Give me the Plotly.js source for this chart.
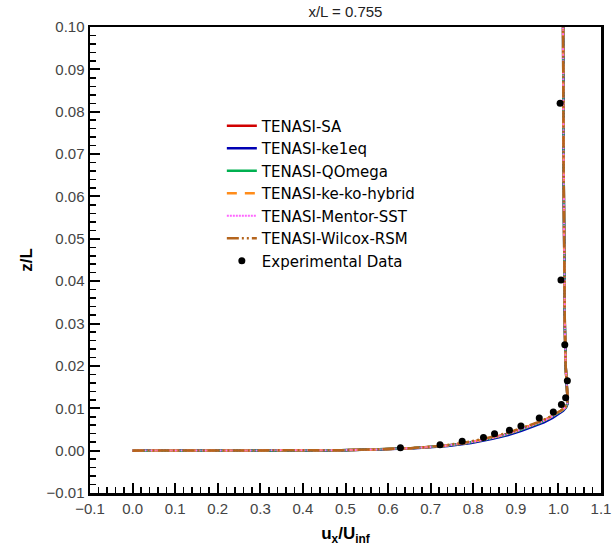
<!DOCTYPE html>
<html>
<head>
<meta charset="utf-8">
<script src="https://cdn.plot.ly/plotly-3.0.1.min.js"></script>
<style>html,body{margin:0;padding:0;background:#fff;}#chart{width:613px;height:550px;}</style>
</head>
<body>
<div id="chart"></div>
<script>
// Shared wall-normal coordinates (z/L) for the model profiles
const zProfile = [0, 0.0001, 0.0003, 0.0006, 0.0011, 0.0018, 0.0028, 0.0037, 0.0047, 0.0057, 0.0067, 0.0077, 0.0086, 0.0094, 0.0102, 0.011, 0.013, 0.016, 0.02, 0.03, 0.05, 0.07, 0.1];
// Velocity profiles (u_x/U_inf) for each model
const uSA       = [0, 0.49, 0.58, 0.66, 0.73, 0.785, 0.835, 0.872, 0.903, 0.932, 0.957, 0.978, 0.994, 1.007, 1.016, 1.021, 1.021, 1.019, 1.017, 1.015, 1.013, 1.012, 1.011];
const uKe1eq    = [0, 0.49, 0.59, 0.67, 0.74, 0.795, 0.845, 0.882, 0.913, 0.942, 0.966, 0.986, 1.0, 1.011, 1.018, 1.021, 1.021, 1.019, 1.017, 1.015, 1.013, 1.012, 1.011];
const uQOmega   = [0, 0.49, 0.58, 0.66, 0.73, 0.785, 0.836, 0.874, 0.905, 0.934, 0.959, 0.98, 0.996, 1.008, 1.017, 1.021, 1.021, 1.019, 1.017, 1.015, 1.013, 1.012, 1.011];
const uHybrid   = [0, 0.49, 0.58, 0.66, 0.73, 0.783, 0.833, 0.870, 0.901, 0.930, 0.955, 0.977, 0.993, 1.006, 1.016, 1.021, 1.021, 1.019, 1.017, 1.015, 1.013, 1.012, 1.011];
const uMentor   = [0, 0.49, 0.58, 0.66, 0.73, 0.785, 0.835, 0.873, 0.904, 0.933, 0.958, 0.979, 0.995, 1.007, 1.016, 1.021, 1.021, 1.019, 1.017, 1.015, 1.013, 1.012, 1.011];
const uWilcox   = [0, 0.49, 0.575, 0.655, 0.722, 0.775, 0.825, 0.862, 0.895, 0.925, 0.952, 0.975, 0.992, 1.005, 1.015, 1.021, 1.021, 1.019, 1.017, 1.015, 1.013, 1.012, 1.011];
// Experimental data
const expU = [0.629, 0.722, 0.774, 0.824, 0.850, 0.885, 0.912, 0.955, 0.988, 1.007, 1.017, 1.021, 1.015, 1.006, 1.004];
const expZ = [0.0007, 0.0014, 0.0022, 0.0031, 0.0040, 0.0048, 0.0058, 0.0077, 0.0091, 0.0109, 0.0125, 0.0165, 0.025, 0.0403, 0.082];
const seriesNames = ["TENASI-SA", "TENASI-ke1eq", "TENASI-QOmega", "TENASI-ke-ko-hybrid", "TENASI-Mentor-SST", "TENASI-Wilcox-RSM", "Experimental Data"];

const traces = [
  {x: uSA, y: zProfile, name: seriesNames[0], mode: 'lines', line: {color: '#d10000', width: 2.5}},
  {x: uKe1eq, y: zProfile, name: seriesNames[1], mode: 'lines', line: {color: '#0000b4', width: 2.5}},
  {x: uQOmega, y: zProfile, name: seriesNames[2], mode: 'lines', line: {color: '#00b050', width: 2.5}},
  {x: uHybrid, y: zProfile, name: seriesNames[3], mode: 'lines', line: {color: '#ff8c1a', width: 2.5, dash: '10px,8px'}},
  {x: uMentor, y: zProfile, name: seriesNames[4], mode: 'lines', line: {color: '#ff66ff', width: 2, dash: '2px,1px'}},
  {x: uWilcox, y: zProfile, name: seriesNames[5], mode: 'lines', line: {color: '#b5651d', width: 2.5, dash: '12px,3px,2px,3px,2px,3px'}},
  {x: expU, y: expZ, name: seriesNames[6], mode: 'markers', marker: {color: '#000', size: 7}}
];

const tickFont = {family: 'Liberation Sans, Arial, sans-serif', size: 15, color: '#444'};
const layout = {
  width: 613, height: 550,
  margin: {l: 90, r: 12, t: 27, b: 57},
  paper_bgcolor: '#fff', plot_bgcolor: '#fff',
  title: {text: 'x/L = 0.755', x: 0.5635, xanchor: 'center', y: 0.978, yanchor: 'middle',
          font: {family: 'Liberation Sans, Arial, sans-serif', size: 15, color: '#222'}},
  xaxis: {
    range: [-0.1, 1.1], dtick: 0.1, tick0: 0, tickformat: '.1f',
    showgrid: false, zeroline: false,
    showline: true, linecolor: '#000', linewidth: 2.5, mirror: true,
    ticks: 'inside', ticklen: 10, tickwidth: 2, tickcolor: '#000',
    minor: {dtick: 0.02, ticks: 'inside', ticklen: 6, tickwidth: 1.5, tickcolor: '#000', showgrid: false},
    tickfont: tickFont,
    title: {text: '<b>u<sub>x</sub>/U<sub>inf</sub></b>', font: {family: 'Liberation Sans, Arial, sans-serif', size: 17, color: '#000'}, standoff: 12}
  },
  yaxis: {
    range: [-0.01, 0.1], dtick: 0.01, tick0: 0, tickformat: '.2f',
    showgrid: false, zeroline: false,
    showline: true, linecolor: '#000', linewidth: 2.5, mirror: true,
    ticks: 'inside', ticklen: 10, tickwidth: 2, tickcolor: '#000',
    minor: {dtick: 0.002, ticks: 'inside', ticklen: 6, tickwidth: 1.5, tickcolor: '#000', showgrid: false},
    tickfont: tickFont,
    title: {text: '<b>z/L</b>', font: {family: 'Liberation Sans, Arial, sans-serif', size: 17, color: '#000'}, standoff: 10}
  },
  showlegend: true,
  legend: {
    x: 0.258, y: 0.823, xanchor: 'left', yanchor: 'top',
    bgcolor: 'rgba(255,255,255,0)', borderwidth: 0,
    font: {family: 'DejaVu Sans, sans-serif', size: 15, color: '#000'},
    tracegroupgap: 0, itemwidth: 30
  }
};

Plotly.newPlot('chart', traces, layout, {displayModeBar: false, staticPlot: true});
</script>
</body>
</html>
